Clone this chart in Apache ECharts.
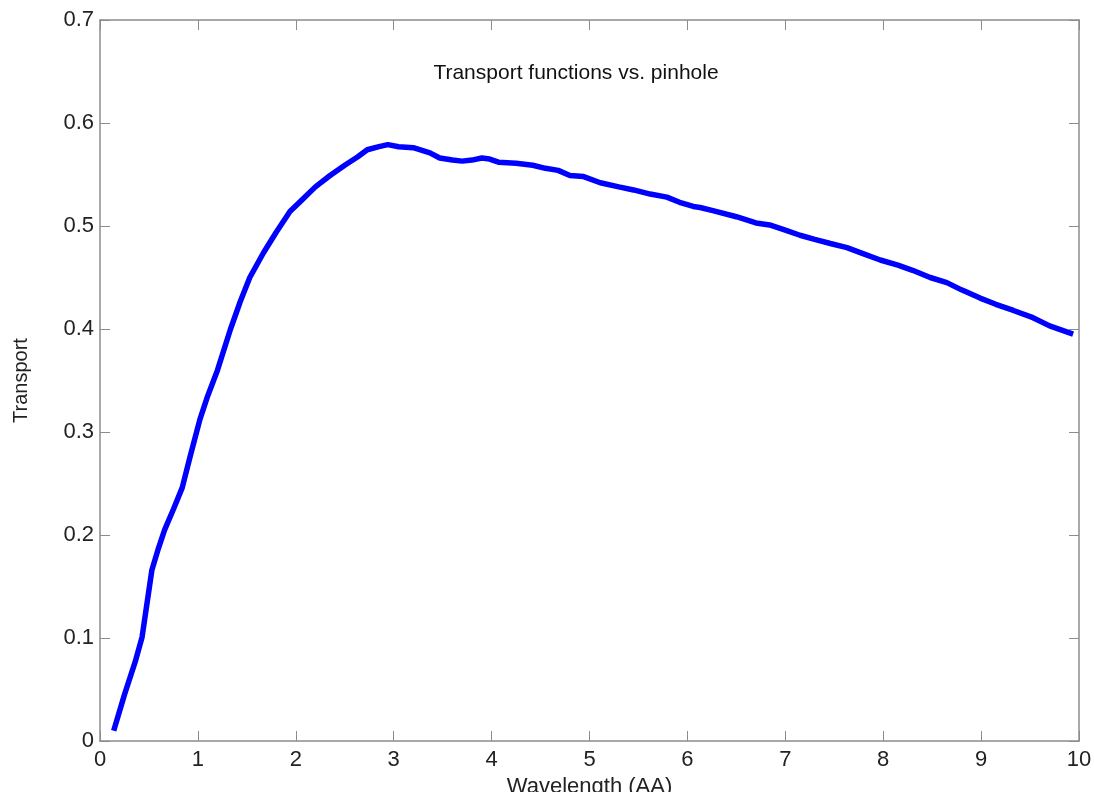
<!DOCTYPE html>
<html>
<head>
<meta charset="utf-8">
<script src="https://cdn.jsdelivr.net/npm/echarts@6/dist/echarts.min.js"></script>
<style>
  html, body { margin: 0; padding: 0; background: #fff; }
  #main { width: 1094px; height: 792px; }
</style>
</head>
<body>
<div id="main"></div>
<script>
// wavelength (AA) and transport
var wavelength = [0.14, 0.25, 0.36, 0.43, 0.53, 0.59, 0.66, 0.75, 0.84, 0.92,
  1.02, 1.10, 1.20, 1.33, 1.43, 1.53, 1.67, 1.80, 1.94, 2.07,
  2.20, 2.35, 2.50, 2.63, 2.73, 2.85, 2.94, 3.05, 3.20, 3.37,
  3.47, 3.60, 3.70, 3.80, 3.90, 3.98, 4.07, 4.25, 4.42, 4.55,
  4.68, 4.80, 4.94, 5.11, 5.30, 5.45, 5.62, 5.79, 5.92, 6.06,
  6.13, 6.26, 6.50, 6.70, 6.84, 7.00, 7.15, 7.30, 7.46, 7.63,
  7.80, 7.97, 8.15, 8.30, 8.48, 8.65, 8.80, 8.99, 9.15, 9.33,
  9.53, 9.70, 9.94]
var transport = [0.010, 0.045, 0.077, 0.101, 0.166, 0.185, 0.205, 0.225, 0.246, 0.276,
  0.312, 0.335, 0.360, 0.399, 0.426, 0.450, 0.474, 0.494, 0.514, 0.526,
  0.538, 0.549, 0.559, 0.567, 0.574, 0.577, 0.579, 0.577, 0.576, 0.571,
  0.566, 0.564, 0.563, 0.564, 0.566, 0.565, 0.562, 0.561, 0.559, 0.556,
  0.554, 0.549, 0.548, 0.542, 0.538, 0.535, 0.531, 0.528, 0.523, 0.519,
  0.518, 0.515, 0.509, 0.503, 0.501, 0.496, 0.491, 0.487, 0.483, 0.479,
  0.473, 0.467, 0.462, 0.457, 0.450, 0.445, 0.438, 0.430, 0.424, 0.418,
  0.411, 0.403, 0.395]

var titleText = 'Transport functions vs. pinhole'
var xName = 'Wavelength (AA)'
var yName = 'Transport'

var font = 'Liberation Sans'
var axisGray = '#8c8c8c'

var chart = echarts.init(document.getElementById('main'))

var seriesData = wavelength.map(function (w, i) {
  return [w, transport[i]]
})

// bottom/left axes carry labels, top/right only mirror the ticks
function xAxisCfg(pos, labels) {
  return {
    type: 'value', position: pos, min: 0, max: 10, interval: 1,
    name: labels ? xName : '', nameLocation: 'middle', nameGap: 31,
    nameTextStyle: { fontFamily: font, fontSize: 22, color: '#222' },
    axisLine: { show: true, onZero: false, lineStyle: { color: axisGray, width: 1.5 } },
    axisTick: { show: true, inside: true, length: 10, lineStyle: { color: axisGray } },
    axisLabel: { show: labels, fontFamily: font, fontSize: 22, color: '#222', margin: 8 },
    splitLine: { show: false }
  }
}
function yAxisCfg(pos, labels) {
  return {
    type: 'value', position: pos, min: 0, max: 0.7, interval: 0.1,
    name: labels ? yName : '', nameLocation: 'middle', nameGap: 69,
    nameTextStyle: { fontFamily: font, fontSize: 20, color: '#222' },
    axisLine: { show: true, onZero: false, lineStyle: { color: axisGray, width: 1.5 } },
    axisTick: { show: true, inside: true, length: 10, lineStyle: { color: axisGray } },
    axisLabel: {
      show: labels, fontFamily: font, fontSize: 22, color: '#222', margin: 6,
      formatter: function (v) { return v === 0 ? '0' : v.toFixed(1) }
    },
    splitLine: { show: false }
  }
}

var option = {
  backgroundColor: '#fff',
  animation: false,
  title: {
    text: titleText,
    left: 571, top: 58, textAlign: 'center',
    textStyle: { fontFamily: font, fontSize: 21, fontWeight: 'normal', color: '#111' }
  },
  grid: { left: 100, top: 20, right: 15, bottom: 51, containLabel: false, outerBoundsMode: 'none' },
  xAxis: [xAxisCfg('bottom', true), xAxisCfg('top', false)],
  yAxis: [yAxisCfg('left', true), yAxisCfg('right', false)],
  series: [{
    type: 'line',
    data: seriesData,
    showSymbol: false,
    smooth: false,
    lineStyle: { color: '#0000ff', width: 5.5 },
    itemStyle: { color: '#0000ff' }
  }]
}
chart.setOption(option)
</script>
</body>
</html>
